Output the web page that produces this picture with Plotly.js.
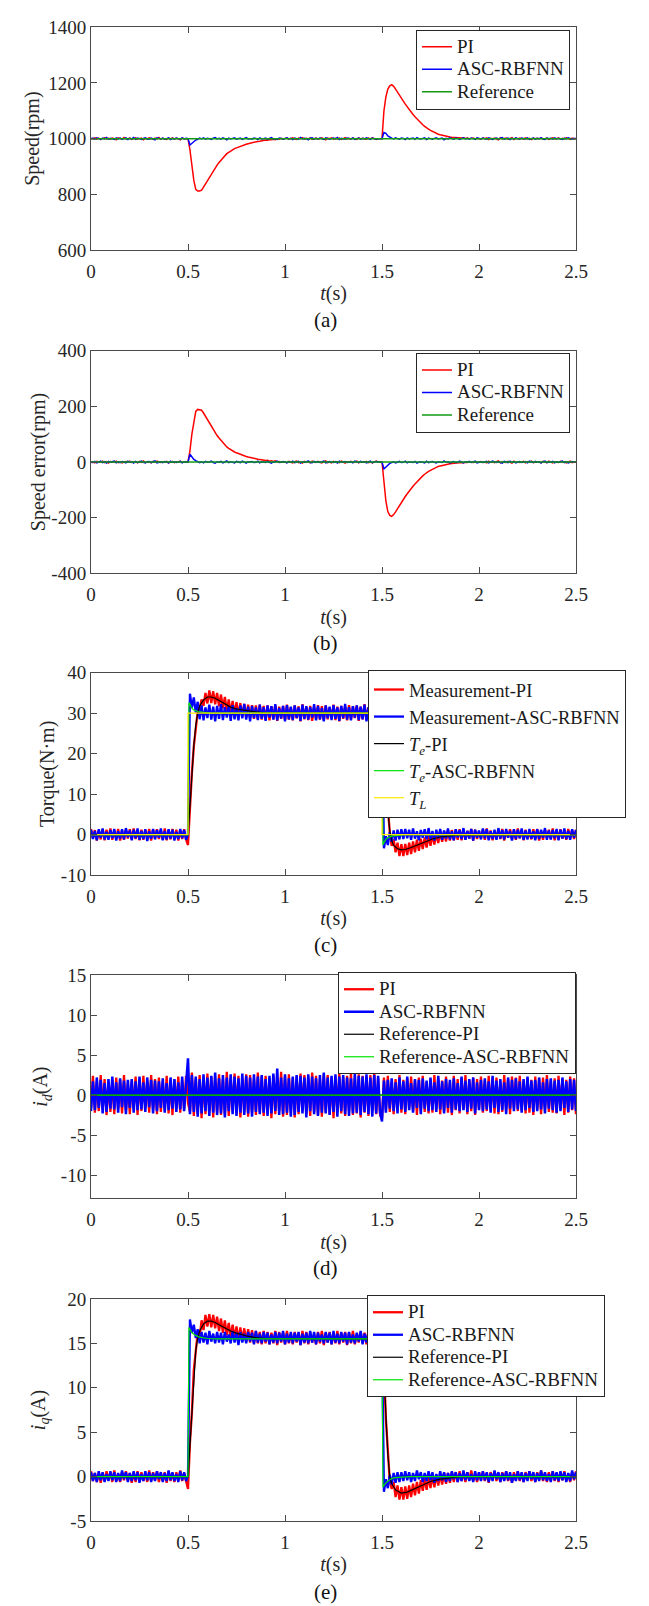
<!DOCTYPE html>
<html><head><meta charset="utf-8">
<script src="https://cdn.plot.ly/plotly-3.0.1.min.js"></script>
<style>html,body{margin:0;padding:0;background:#fff}#chart{width:649px;height:1606px}</style>
</head><body><div id="chart"></div>
<script>
// ---------- shared tick labels ----------
const timeTickVals = [0, 0.5, 1, 1.5, 2, 2.5];
const timeTickText = ['0', '0.5', '1', '1.5', '2', '2.5'];
const sampleStart = 0;      // s
const sampleStep = 0.01;    // s

// ---------- (a) speed (rpm), sampled every 0.01 s ----------
const speedTicks = [600, 800, 1000, 1200, 1400];
const speedPI = [
1001,999,1003,998,1002,997,1000,1003,999,1001,998,1002,1000,996,1003,1001,998,1004,999,1000,
1002,997,1001,1003,998,1000,1002,996,1001,999,1003,1000,997,1002,999,1004,998,1001,1000,997,
1002,999,1003,998,1001,1000,996,1002,1000,999,
1000,
960,900,850,818,812,812,815,826,838,848,860,872,884,895,905,914,922,932,940,946,
951,956,960,964,967,970,973,976,978,980,982,984,986,987,989,990,991,993,993,995,
994,997,996,998,996,999,998,1001,999,1000,
1002,998,1001,1003,999,997,1002,1000,1004,998,1001,999,1003,997,1000,1002,998,1001,1003,999,
996,1002,1000,1003,998,1001,999,1002,997,1000,1004,999,1001,998,1002,1000,997,1003,999,1001,
1000,998,1002,999,1003,1001,997,1000,999,
1000,
1100,1150,1178,1190,1194,1188,1178,1166,1156,1146,1135,1124,1114,1104,1095,1087,1079,1071,1063,1056,
1050,1044,1038,1034,1030,1026,1022,1019,1016,1014,1012,1010,1008,1007,1006,1005,1004,1004,1003,1003,
1002,1003,1001,1002,1000,1001,1002,999,1001,1000,
998,1002,1000,1003,997,1001,999,1002,1000,996,1003,999,1001,1002,998,1000,1004,997,1001,999,
1002,1000,998,1003,999,1001,997,1002,1000,1001,999,1003,998,1000,1002,997,1001,1003,999,1000,
1002,998,1001,999,1003,1000,997,1002,999,1001];
const speedASC = [
999,1002,998,1003,1000,997,1002,999,1004,998,1001,1000,997,1003,999,1002,998,1000,1003,997,
1001,999,1004,998,1002,1000,997,1001,1003,999,998,1002,1000,996,1003,1001,999,1002,998,1000,
1003,997,1001,999,1002,1000,998,1003,999,1001,
1000,
977,984,991,995,998,1002,999,1003,998,1001,
1000,997,1002,1004,999,1001,998,1003,1000,996,1002,999,1001,1003,998,1000,1002,997,1001,1004,
999,1000,998,1002,1001,997,1003,999,1000,1002,998,1001,1004,999,1000,997,1002,1001,998,1000,
1003,999,1001,997,1002,1000,998,1004,999,1001,1000,996,1002,1003,998,1001,999,1002,1000,997,
1003,1001,998,1000,1002,999,1004,997,1001,1000,998,1002,1001,999,1003,997,1000,1002,998,1001,
999,1003,1000,997,1002,1001,998,1000,999,
1000,
1022,1019,1010,1005,1002,999,1003,1000,998,1002,
1001,997,1003,999,1000,1002,998,1004,1000,999,1001,1003,997,1002,1000,998,1001,1003,999,1000,
1002,996,1001,999,1003,1000,998,1002,1001,997,1000,1003,999,1001,998,1002,1000,997,1003,1001,
999,1002,1000,998,1003,1001,997,1000,1002,999,1001,1004,998,1000,1002,997,1001,999,1003,1000,
998,1002,1001,999,1003,997,1000,1002,998,1001,1000,1003,999,997,1002,1000,1001,998,1003,999,
1001,1000,997,1002,999,1003,1000,998,1001,1000];
const speedRefT = [0, 2.5];
const speedRef = [1000, 1000];

// ---------- (b) speed error (rpm) ----------
const errTicks = [-400, -200, 0, 200, 400];
const errTickText = ['-400', '-200', '0', '200', '400'];
const errPI = [
-2,1,-3,2,0,-1,3,-2,1,-4,2,0,-1,3,-2,1,-3,0,2,-1,3,-2,0,1,-3,2,-1,4,-2,0,
1,-3,2,-1,3,0,-2,1,-1,2,-3,0,2,-2,1,-1,3,-2,0,1,
0,
40,100,150,182,189,188,186,176,164,152,140,128,116,105,95,86,78,68,60,54,
49,44,40,36,33,30,27,24,22,20,18,16,14,13,11,10,9,7,7,5,
6,3,4,2,4,1,2,-1,1,0,
-2,2,-1,-3,1,3,-2,0,-4,2,-1,1,-3,3,0,-2,2,-1,-3,1,4,-2,0,-3,2,-1,1,-2,3,0,
-4,1,-1,2,-2,0,3,-3,1,-1,0,2,-2,1,-3,-1,3,0,1,
0,
-70,-140,-178,-192,-195,-189,-179,-167,-156,-146,-135,-124,-114,-104,-95,-87,-79,-71,-63,-56,
-50,-44,-38,-34,-30,-26,-22,-19,-16,-14,-12,-10,-8,-7,-6,-5,-4,-4,-3,-3,
-2,-3,-1,-2,0,-1,-2,1,-1,0,
2,-2,0,-3,3,-1,1,-2,0,4,-3,1,-1,-2,2,0,-4,3,-1,1,-2,0,2,-3,1,-1,3,-2,0,-1,
1,-3,2,0,-2,3,-1,-3,1,0,-2,2,-1,1,-3,0,3,-2,1,-1];
const errASC = [
1,-2,2,-3,0,3,-2,1,-4,2,-1,0,3,-3,1,-2,2,0,-3,3,-1,1,-4,2,-2,0,3,-1,-3,1,
2,-2,0,4,-3,-1,1,-2,2,0,-3,3,-1,1,-2,0,2,-3,1,-1,
0,
28,18,9,5,2,-2,1,-3,2,-1,
0,3,-2,-4,1,-1,2,-3,0,4,-2,1,-1,-3,2,0,-2,3,-1,-4,1,0,2,-2,-1,3,-3,1,0,-2,
2,-1,-4,1,0,3,-2,-1,2,0,
-3,1,-1,3,-2,0,2,-4,1,-1,0,4,-2,-3,2,-1,1,-2,0,3,-3,-1,2,0,-2,1,-4,3,-1,0,
2,-2,-1,1,-3,3,0,-2,2,-1,1,-3,0,3,-2,-1,2,0,1,
0,
-25,-19,-10,-5,-2,1,-3,0,2,-2,
-1,3,-3,1,0,-2,2,-4,0,1,-1,-3,3,-2,0,2,-1,-3,1,0,-2,4,-1,1,-3,0,2,-2,-1,3,
0,-3,1,-1,2,-2,0,3,-3,-1,
1,-2,0,2,-3,-1,3,0,-2,1,-1,-4,2,0,-2,3,-1,1,-3,0,2,-2,-1,1,-3,3,0,-2,2,-1,
0,-3,1,3,-2,0,-1,2,-3,1,-1,0,3,-2,1,-3,0,2,-1,0];
const errRefT = [0, 2.5];
const errRef = [0, 0];

// ---------- (c) torque (N·m) ----------
const torqueTicks = [-10, 0, 10, 20, 30, 40];
const torqueTickText = ['-10', '0', '10', '20', '30', '40'];
const torqueMeasPI = [
1.4,-1.0,1.1,-1.5,1.0,-1.2,1.3,-1.4,1.2,-1.0,1.5,-1.3,0.9,-1.1,1.4,-1.5,1.0,-1.3,1.2,-1.0,
1.3,-1.2,1.5,-1.1,1.0,-1.4,1.2,-1.3,1.1,-1.0,1.4,-1.5,1.2,-1.0,1.3,-1.1,1.0,-1.3,1.5,-1.4,
1.1,-1.2,1.4,-1.0,1.2,-1.5,1.0,-1.1,1.3,-1.2,
-2.6,
7.5,15.2,21.8,27.0,30.4,31.0,33.4,31.8,35.0,32.4,
35.6,32.5,35.4,32.2,35.0,31.7,34.6,31.2,34.0,30.6,
33.4,30.0,33.0,29.7,32.7,29.3,32.5,29.1,32.3,28.9,
32.1,28.8,32.0,28.6,31.9,28.5,32.1,28.4,31.8,28.3,
31.9,28.2,31.7,28.5,32.0,28.1,31.6,28.6,31.8,28.3,32.1,28.4,31.5,28.2,31.9,28.7,31.7,28.0,32.2,28.5,
31.6,28.3,31.8,28.1,31.5,28.6,32.0,28.4,31.7,28.2,31.9,28.5,31.4,28.7,32.1,28.3,31.6,28.0,31.8,28.6,
31.5,28.2,32.0,28.4,31.7,28.8,31.9,28.1,31.6,28.5,32.2,28.3,31.5,28.7,31.8,28.2,31.9,28.6,31.7,32.0,
24.0,13.0,6.8,0.6,-2.8,-1.2,-4.4,-2.0,-5.3,-2.4,
-5.3,-2.3,-5.1,-2.0,-4.8,-1.7,-4.4,-1.3,-4.0,-1.0,
-3.6,-0.7,-3.2,-0.3,-2.8,0.0,-2.5,0.3,-2.1,0.6,
-1.8,0.8,-1.7,1.0,-1.5,1.1,-1.4,1.2,-1.3,1.3,
-1.4,1.1,-1.2,0.9,-1.0,1.4,-1.5,1.2,-1.1,0.8,-0.9,1.3,-1.3,1.5,-1.2,1.0,-1.4,0.7,-1.0,1.2,
-1.1,1.4,-1.5,0.9,-0.8,1.3,-1.2,1.1,-1.3,1.5,-0.9,1.0,-1.4,1.2,-1.1,0.8,-1.2,1.3,-1.0,1.4,
-1.5,0.9,-1.3,1.1,-0.8,1.2,-1.1,1.5,-1.4,1.0,-1.2,1.3,-1.0,0.8,-1.3,1.4,-0.9,1.1,-1.1,1.2];
const torqueMeasASC = [
1.2,-1.1,0.9,-1.4,1.3,-0.8,1.5,-1.2,0.7,-1.3,1.1,-0.9,1.4,-1.5,0.8,-1.0,1.3,-1.2,1.6,-0.7,
1.0,-1.4,1.2,-0.9,1.5,-1.3,0.9,-1.1,1.3,-1.6,0.8,-1.0,1.4,-1.2,1.1,-0.8,1.5,-1.4,0.9,-1.2,
1.3,-1.0,1.2,-1.5,0.7,-1.1,1.4,-0.9,1.1,-1.3,
0.2,
34.8,31.4,33.9,30.2,32.8,
28.5,31.9,28.2,31.4,28.8,32.1,28.4,31.6,28.0,31.8,28.6,32.2,28.3,31.5,28.9,31.7,28.1,32.0,28.5,31.3,
28.2,31.9,28.7,32.3,28.4,31.6,28.0,31.8,28.8,31.4,28.3,32.1,28.6,31.5,28.1,31.9,28.9,31.7,28.4,32.2,
28.2,31.3,28.7,31.8,28.0,32.0,28.5,31.6,28.3,31.9,28.8,31.4,28.1,32.1,28.6,31.7,28.4,31.5,28.9,32.2,
28.2,31.8,28.5,31.3,28.0,31.9,28.7,31.6,28.3,32.0,28.6,31.4,28.1,31.8,28.8,32.3,28.4,31.5,28.2,31.7,
28.9,31.9,28.3,31.6,28.5,32.1,28.0,31.4,28.7,31.8,28.4,32.0,28.6,31.5,30.5,
-3.4,-0.4,-2.6,0.6,-1.8,1.0,-1.5,1.2,-1.2,1.3,
-1.1,1.4,-0.9,1.2,-1.3,1.5,-1.0,0.8,-1.4,1.1,-0.8,1.3,-1.2,1.6,-1.1,0.9,-1.5,1.2,-0.9,1.4,
-1.3,1.0,-1.0,1.5,-1.2,0.8,-1.4,1.3,-0.7,1.1,-1.1,1.6,-1.3,0.9,-1.0,1.4,-1.5,1.2,-0.8,1.0,
-1.2,1.5,-0.9,1.3,-1.4,0.8,-1.1,1.2,-1.3,1.6,-1.0,1.1,-1.2,1.4,-0.8,0.9,-1.5,1.3,-1.1,1.2,
-0.9,1.5,-1.3,1.0,-1.2,1.4,-1.0,0.8,-1.4,1.3,-1.1,1.2,-0.8,1.6,-1.3,1.0,-1.2,1.1,-0.9,1.4,
-1.4,1.2,-1.0,1.5,-1.1,0.9,-1.3,1.3,-0.8,1.1];
const tePIT = [0,0.5,0.51,0.52,0.53,0.54,0.55,0.56,0.58,0.6,0.62,0.64,0.66,0.68,0.7,0.72,0.75,0.8,0.85,0.9,
  1.5,1.51,1.52,1.53,1.54,1.55,1.56,1.58,1.6,1.62,1.65,1.68,1.7,1.73,1.76,1.8,1.85,1.9,2.5];
const tePI = [0,0,7,15,22,27,30,31.8,33.3,34,34,33.7,33.2,32.6,32.0,31.5,31.0,30.6,30.3,30.1,
  30,23,14,6,1,-1.5,-2.7,-3.5,-3.8,-3.7,-3.2,-2.6,-2.2,-1.6,-1.1,-0.6,-0.3,-0.1,0];
const teASCT = [0,0.5,0.505,0.51,0.52,0.53,0.55,0.58,0.62,1.5,1.505,1.51,1.52,1.53,1.55,1.58,1.62,2.5];
const teASC = [0,0,32.6,32.0,31.2,30.8,30.4,30.2,30,30,-2.6,-2.0,-1.2,-0.8,-0.4,-0.2,0,0];
const loadT = [0,0.5,0.5,1.5,1.5,2.5];
const loadTorque = [0,0,30,30,0,0];

// ---------- (d) i_d (A) ----------
const idTicks = [-10, -5, 0, 5, 10, 15];
const idTickText = ['-10', '-5', '0', '5', '10', '15'];
const idPI = [
-1.6,2.4,-2.2,1.7,-2.0,2.5,-1.8,2.0,-2.5,1.6,-2.1,1.8,-2.4,2.2,-1.7,1.9,-2.3,2.5,-1.9,1.5,
-2.4,1.8,-1.7,2.3,-2.5,1.9,-2.0,2.4,-1.6,1.8,-2.2,2.5,-1.8,2.0,-2.4,2.2,-2.1,1.6,-1.9,2.4,
-2.3,1.7,-2.5,1.9,-1.6,2.3,-2.2,1.8,-1.7,2.4,
-1.0,
-2.1,2.8,-2.6,2.0,-2.3,2.5,-2.9,2.2,-2.4,2.7,-2.0,2.3,-2.8,2.1,-2.2,2.6,-2.5,2.0,-2.4,2.9,
-2.6,2.2,-2.0,2.7,-2.3,2.4,-2.8,2.1,-2.1,2.6,-2.7,2.5,-2.2,2.0,-2.5,2.8,-2.1,2.3,-2.6,2.4,
-2.3,2.1,-2.9,2.4,-2.4,2.2,-2.0,2.9,-2.7,2.3,-2.5,2.6,-2.2,2.1,-2.8,2.3,-2.4,2.7,-2.0,2.5,
-2.3,2.2,-2.6,2.8,-2.1,2.4,-2.5,2.0,-2.7,2.6,-2.2,2.5,-2.4,2.1,-2.9,2.3,-2.1,2.7,-2.3,2.2,
-2.6,2.4,-2.0,2.8,-2.5,2.1,-2.3,2.6,-2.8,2.4,-2.2,2.3,-2.6,2.5,-2.0,2.9,-2.4,2.1,-2.5,
-3.0,
2.2,-1.9,2.4,-2.1,1.7,-2.4,2.0,-1.8,2.5,-2.2,1.9,-2.4,2.1,-1.6,2.3,-2.0,1.8,-2.5,2.2,-1.9,
2.4,-2.1,1.6,-2.3,2.0,-2.2,2.5,-1.7,2.1,-2.4,1.8,-2.0,2.3,-2.2,1.6,-2.5,2.4,-1.9,2.0,-2.3,
2.1,-1.8,2.5,-2.4,1.9,-2.0,2.2,-2.5,2.0,-1.7,2.3,-2.2,1.8,-2.0,2.4,-1.9,2.1,-2.3,2.2,-2.4,
1.7,-2.1,2.5,-1.8,2.0,-2.4,2.3,-1.6,2.2,-2.0,2.4,-1.9,1.8,-2.3,2.1,-2.2,1.9,-2.5,2.3,-1.8,
2.0,-2.4,2.2,-1.7,2.5,-2.1,1.8,-2.2,2.1,-2.3,2.4,-1.8,2.0,-2.5,1.9,-2.2,2.3,-1.9,2.1,-2.4];
const idASC = [
-2.0,1.7,-1.9,2.2,-1.6,1.9,-2.3,1.5,-2.1,2.0,-1.7,2.3,-1.8,1.6,-2.2,2.1,-1.5,1.8,-2.4,1.9,
-1.6,2.0,-2.2,1.7,-1.9,2.3,-1.8,1.6,-2.1,2.2,-1.5,1.9,-2.3,1.8,-2.0,1.7,-1.6,2.1,-2.2,1.5,
-1.9,2.2,-1.7,2.0,-2.1,1.6,-1.8,2.3,-2.0,1.8,
4.6,
-2.4,2.5,-2.1,2.3,-2.7,2.0,-2.3,2.6,-2.0,2.2,-2.6,2.4,-2.2,2.8,-2.5,2.1,-2.3,2.5,-2.8,2.2,
-2.0,2.6,-2.4,2.3,-2.6,2.1,-2.2,2.7,-2.5,2.4,-2.3,2.2,-2.7,2.6,-2.1,2.3,-2.4,2.5,-2.2,2.0,
-2.6,2.4,-2.3,2.7,-2.0,3.3,-2.5,2.2,-2.4,2.6,-2.2,2.1,-2.7,2.3,-2.5,2.5,-2.1,2.4,-2.3,2.2,
-2.8,2.6,-2.0,2.3,-2.4,2.1,-2.6,2.5,-2.2,2.8,-2.3,2.2,-2.5,2.4,-2.1,2.6,-2.7,2.3,-2.0,2.5,
-2.4,2.2,-2.6,2.1,-2.3,2.7,-2.2,2.4,-2.5,2.3,-2.1,2.6,-2.4,2.2,-2.7,2.5,-2.3,2.4,-2.2,
-3.3,
1.8,-2.2,1.9,-1.7,2.1,-2.0,1.6,-2.3,2.2,-1.8,1.7,-2.1,2.3,-1.9,1.5,-2.2,2.0,-1.6,1.9,-2.4,
2.1,-1.7,1.8,-2.0,2.2,-1.9,1.6,-2.1,2.4,-1.8,1.7,-2.3,2.0,-1.6,1.9,-2.2,2.1,-1.8,1.5,-2.0,
2.3,-1.9,1.8,-2.1,2.0,-1.7,2.2,-2.3,1.6,-1.9,1.9,-2.0,2.1,-1.8,1.7,-2.2,2.4,-1.6,1.8,-2.1,
2.0,-1.9,1.6,-2.4,2.2,-1.7,1.9,-2.0,2.1,-1.8,1.7,-2.2,2.0,-1.9,2.3,-1.6,1.8,-2.1,1.9,-2.0,
2.2,-1.8,1.6,-2.3,2.0,-1.7,2.1,-1.9,1.8,-2.2,1.9,-2.0,2.2,-1.6,1.7,-2.1,2.0,-1.8,1.9,-2.0];
const idRefT = [0, 2.5];
const idRefPI = [0, 0];
const idRefASC = [0, 0];

// ---------- (e) i_q (A) ----------
const iqTicks = [-5, 0, 5, 10, 15, 20];
const iqTickText = ['-5', '0', '5', '10', '15', '20'];
const iqPI = [
0.6,-0.5,0.4,-0.6,0.5,-0.7,0.4,-0.5,0.6,-0.4,0.5,-0.6,0.7,-0.5,0.3,-0.6,0.5,-0.4,0.6,-0.5,
0.4,-0.7,0.5,-0.6,0.6,-0.4,0.5,-0.5,0.4,-0.6,0.7,-0.5,0.5,-0.4,0.6,-0.6,0.4,-0.5,0.5,-0.7,
0.6,-0.5,0.4,-0.6,0.5,-0.4,0.7,-0.5,0.4,-0.6,
-1.4,
3.8,7.2,12.0,13.8,16.2,15.7,17.6,16.5,18.2,16.9,
18.3,16.8,18.2,16.7,18.0,16.4,17.8,16.2,17.6,15.9,
17.3,15.7,17.1,15.6,16.9,15.4,16.8,15.3,16.7,15.2,
16.6,15.1,16.5,15.0,16.4,15.0,16.3,14.9,16.4,15.0,
16.3,14.9,16.2,15.0,16.4,14.8,16.3,15.1,16.2,14.9,16.4,15.0,16.1,14.9,16.3,15.1,16.2,14.8,16.4,15.0,
16.3,14.9,16.2,15.1,16.0,14.9,16.3,15.0,16.4,14.8,16.2,15.1,16.3,14.9,16.1,15.0,16.4,14.9,16.2,15.1,
16.3,14.8,16.2,15.0,16.4,14.9,16.1,15.1,16.3,15.0,16.2,14.9,16.4,15.0,16.3,14.8,16.2,15.1,16.3,16.7,
12.5,6.5,3.0,-0.5,-1.4,-0.6,-2.3,-1.0,-2.6,-1.2,
-2.6,-1.1,-2.5,-1.0,-2.3,-0.8,-2.1,-0.6,-1.9,-0.4,
-1.6,-0.2,-1.5,0.0,-1.3,0.1,-1.2,0.2,-1.0,0.3,
-0.9,0.4,-0.8,0.4,-0.7,0.5,-0.6,0.5,-0.6,0.6,
-0.5,0.4,-0.6,0.5,-0.4,0.7,-0.5,0.3,-0.6,0.5,-0.4,0.6,-0.5,0.4,-0.7,0.5,-0.3,0.6,-0.5,0.4,
-0.6,0.5,-0.4,0.6,-0.5,0.3,-0.7,0.5,-0.4,0.6,-0.5,0.4,-0.6,0.5,-0.3,0.6,-0.5,0.4,-0.6,0.5,
-0.4,0.7,-0.5,0.4,-0.6,0.5,-0.4,0.6,-0.5,0.4,-0.6,0.5,-0.4,0.6,-0.5,0.3,-0.6,0.5,-0.4,0.6];
const iqASC = [
0.5,-0.5,0.4,-0.6,0.6,-0.4,0.5,-0.6,0.3,-0.5,0.6,-0.4,0.5,-0.6,0.4,-0.5,0.7,-0.3,0.5,-0.6,
0.4,-0.5,0.6,-0.4,0.5,-0.7,0.3,-0.5,0.6,-0.4,0.5,-0.6,0.4,-0.5,0.6,-0.3,0.5,-0.6,0.4,-0.5,
0.7,-0.4,0.5,-0.5,0.3,-0.6,0.6,-0.4,0.5,-0.5,
0.1,
17.7,16.2,17.1,15.6,16.6,
15.0,16.3,15.1,16.2,14.9,16.4,15.2,16.1,15.0,16.3,15.1,16.2,14.9,16.3,15.2,16.0,15.0,16.4,15.1,16.2,
14.8,16.3,15.1,16.1,15.0,16.3,15.2,16.2,14.9,16.4,15.1,16.1,15.0,16.3,15.2,16.2,14.9,16.0,15.1,16.3,
15.0,16.2,15.2,16.4,14.9,16.1,15.1,16.3,15.0,16.2,15.2,16.3,14.8,16.1,15.1,16.2,15.0,16.4,15.1,16.3,
14.9,16.2,15.2,16.0,15.0,16.3,15.1,16.2,14.9,16.4,15.1,16.1,15.0,16.3,15.2,16.2,14.9,16.3,15.1,16.0,
15.0,16.2,15.2,16.4,14.9,16.1,15.1,16.3,15.0,16.2,15.2,16.1,14.9,16.3,15.6,
-1.7,-0.3,-1.3,0.2,-0.9,0.4,-0.7,0.5,-0.6,0.5,
-0.5,0.6,-0.4,0.5,-0.6,0.4,-0.5,0.7,-0.3,0.5,-0.6,0.4,-0.5,0.6,-0.4,0.5,-0.7,0.3,-0.5,0.6,
-0.4,0.5,-0.6,0.4,-0.5,0.6,-0.3,0.5,-0.6,0.4,-0.5,0.7,-0.4,0.5,-0.5,0.3,-0.6,0.6,-0.4,0.5,
-0.5,0.6,-0.4,0.5,-0.6,0.4,-0.5,0.7,-0.3,0.5,-0.6,0.4,-0.5,0.6,-0.4,0.5,-0.7,0.3,-0.5,0.6,
-0.4,0.5,-0.6,0.4,-0.5,0.6,-0.3,0.5,-0.6,0.4,-0.5,0.7,-0.4,0.5,-0.5,0.3,-0.6,0.6,-0.4,0.5,
-0.5,0.6,-0.4,0.5,-0.6,0.4,-0.5,0.7,-0.3,0.5];
const iqRefPIT = [0,0.5,0.51,0.52,0.53,0.54,0.55,0.56,0.58,0.6,0.62,0.64,0.66,0.68,0.7,0.72,0.75,0.8,0.85,0.9,
  1.5,1.51,1.52,1.53,1.54,1.55,1.57,1.6,1.63,1.66,1.7,1.75,1.8,1.85,1.9,2.5];
const iqRefPI = [0,0,3.5,7.5,11.5,14.2,15.6,16.4,17.2,17.5,17.5,17.35,17.1,16.85,16.6,16.4,16.15,15.85,15.65,15.55,
  15.5,12,7,2.5,0,-0.8,-1.5,-1.85,-1.75,-1.45,-1.0,-0.55,-0.28,-0.1,0,0];
const iqRefASCT = [0,0.5,0.505,0.51,0.52,0.54,0.56,0.6,0.65,1.5,1.505,1.51,1.52,1.54,1.56,1.6,1.65,2.5];
const iqRefASC = [0,0,16.8,16.6,16.2,15.9,15.7,15.55,15.5,15.5,-1.2,-1.0,-0.7,-0.35,-0.15,-0.05,0,0];

// ---------- layout helpers ----------
const W = 649, H = 1606;
const FONT = 'Liberation Serif, "Times New Roman", Times, serif';
const TXT = '#262626', AXC = '#4a4a4a';
const px2x = p => p / W;
const px2y = p => 1 - p / H;
// legend rows use a compact line height (legend font 15) with 19px glyphs
const big = s => '<span style="font-size:19px">' + s + '</span>';

const RED = '#ff0000', BLUE = '#0000ff', GREEN_A = '#129a12', GREEN = '#00e600', BLACK = '#000000', YELLOW = '#ffe600';

function sampled(y, xa, ya, color, width, name, leg) {
  return {type: 'scatter', mode: 'lines', x0: sampleStart, dx: sampleStep, y: y, xaxis: xa, yaxis: ya,
    line: {color: color, width: width}, name: name, legend: leg, hoverinfo: 'skip'};
}
function explicit(x, y, xa, ya, color, width, name, leg) {
  return {type: 'scatter', mode: 'lines', x: x, y: y, xaxis: xa, yaxis: ya,
    line: {color: color, width: width}, name: name, legend: leg, hoverinfo: 'skip'};
}

const traces = [
  sampled(speedPI, 'x', 'y', RED, 1.5, big('PI'), 'legend'),
  sampled(speedASC, 'x', 'y', BLUE, 1.5, big('ASC-RBFNN'), 'legend'),
  explicit(speedRefT, speedRef, 'x', 'y', GREEN_A, 1.5, big('Reference'), 'legend'),

  sampled(errPI, 'x2', 'y2', RED, 1.5, big('PI'), 'legend2'),
  sampled(errASC, 'x2', 'y2', BLUE, 1.5, big('ASC-RBFNN'), 'legend2'),
  explicit(errRefT, errRef, 'x2', 'y2', GREEN_A, 1.5, big('Reference'), 'legend2'),

  sampled(torqueMeasPI, 'x3', 'y3', RED, 2.3, 'Measurement-PI', 'legend3'),
  sampled(torqueMeasASC, 'x3', 'y3', BLUE, 2.3, 'Measurement-ASC-RBFNN', 'legend3'),
  explicit(tePIT, tePI, 'x3', 'y3', BLACK, 1.2, '<i>T</i><sub><i>e</i></sub>-PI', 'legend3'),
  explicit(teASCT, teASC, 'x3', 'y3', GREEN, 1.2, '<i>T</i><sub><i>e</i></sub>-ASC-RBFNN', 'legend3'),
  explicit(loadT, loadTorque, 'x3', 'y3', YELLOW, 1.2, '<i>T</i><sub><i>L</i></sub>', 'legend3'),

  sampled(idPI, 'x4', 'y4', RED, 2.3, big('PI'), 'legend4'),
  sampled(idASC, 'x4', 'y4', BLUE, 2.5, big('ASC-RBFNN'), 'legend4'),
  explicit(idRefT, idRefPI, 'x4', 'y4', BLACK, 1.2, big('Reference-PI'), 'legend4'),
  explicit(idRefT, idRefASC, 'x4', 'y4', GREEN, 1.2, big('Reference-ASC-RBFNN'), 'legend4'),

  sampled(iqPI, 'x5', 'y5', RED, 2.3, big('PI'), 'legend5'),
  sampled(iqASC, 'x5', 'y5', BLUE, 2.3, big('ASC-RBFNN'), 'legend5'),
  explicit(iqRefPIT, iqRefPI, 'x5', 'y5', BLACK, 1.2, big('Reference-PI'), 'legend5'),
  explicit(iqRefASCT, iqRefASC, 'x5', 'y5', GREEN, 1.2, big('Reference-ASC-RBFNN'), 'legend5')
];

const axisBase = {
  showline: true, mirror: 'ticks', linecolor: AXC, linewidth: 1,
  ticks: 'inside', ticklen: 6, tickcolor: AXC, tickwidth: 1,
  showgrid: false, zeroline: false, automargin: false,
  tickfont: {family: FONT, size: 19, color: TXT}
};
function xAxis(anchor) {
  return Object.assign({}, axisBase, {
    domain: [px2x(91), px2x(576)], anchor: anchor, range: [0, 2.5],
    tickmode: 'array', tickvals: timeTickVals, ticktext: timeTickText, ticklabelstandoff: 4,
    title: {text: '<i>t</i>(s)', font: {family: FONT, size: 20, color: TXT}, standoff: 5}
  });
}
function yAxis(anchor, top, bottom, range, vals, text, title, standoff) {
  return Object.assign({}, axisBase, {
    domain: [px2y(bottom), px2y(top)], anchor: anchor, range: range,
    tickmode: 'array', tickvals: vals, ticktext: text,
    title: {text: title, font: {family: FONT, size: 20, color: TXT}, standoff: standoff}
  });
}
function legendAt(left, top, size) {
  return {x: px2x(left), y: px2y(top), xanchor: 'left', yanchor: 'top',
    bgcolor: '#ffffff', bordercolor: '#262626', borderwidth: 1,
    font: {family: FONT, size: size, color: '#1a1a1a'}, itemwidth: 30, tracegroupgap: 0,
    traceorder: 'normal'};
}
function caption(text, yPx) {
  return {xref: 'paper', yref: 'paper', x: px2x(325), y: px2y(yPx), text: text, showarrow: false,
    xanchor: 'center', yanchor: 'middle', font: {family: FONT, size: 21, color: '#111'}};
}

const layout = {
  width: W, height: H, margin: {l: 0, r: 0, t: 0, b: 0},
  paper_bgcolor: '#ffffff', plot_bgcolor: '#ffffff', showlegend: true,
  xaxis: xAxis('y'), xaxis2: xAxis('y2'), xaxis3: xAxis('y3'), xaxis4: xAxis('y4'), xaxis5: xAxis('y5'),
  yaxis: yAxis('x', 27.3, 250, [600, 1400], speedTicks, speedTicks.map(String), 'Speed(rpm)', 3),
  yaxis2: yAxis('x2', 350.7, 573.3, [-400, 400], errTicks, errTickText, 'Speed error(rpm)', 0),
  yaxis3: yAxis('x3', 672.7, 875, [-10, 40], torqueTicks, torqueTickText, 'Torque(N·m)', 0),
  yaxis4: yAxis('x4', 975, 1198.3, [-12.9, 15], idTicks, idTickText, '<i>i</i><sub><i>d</i></sub>(A)', 7),
  yaxis5: yAxis('x5', 1299, 1521, [-5, 20], iqTicks, iqTickText, '<i>i</i><sub><i>q</i></sub>(A)', 16),
  legend: legendAt(416, 29.5, 15),
  legend2: legendAt(416, 352.7, 15),
  legend3: legendAt(368, 670, 18.5),
  legend4: legendAt(338, 972, 15),
  legend5: legendAt(367, 1295, 15),
  annotations: [caption('(a)', 320), caption('(b)', 643), caption('(c)', 945), caption('(d)', 1268), caption('(e)', 1592)]
};

Plotly.newPlot('chart', traces, layout, {staticPlot: true, displayModeBar: false});
</script>
</body></html>
